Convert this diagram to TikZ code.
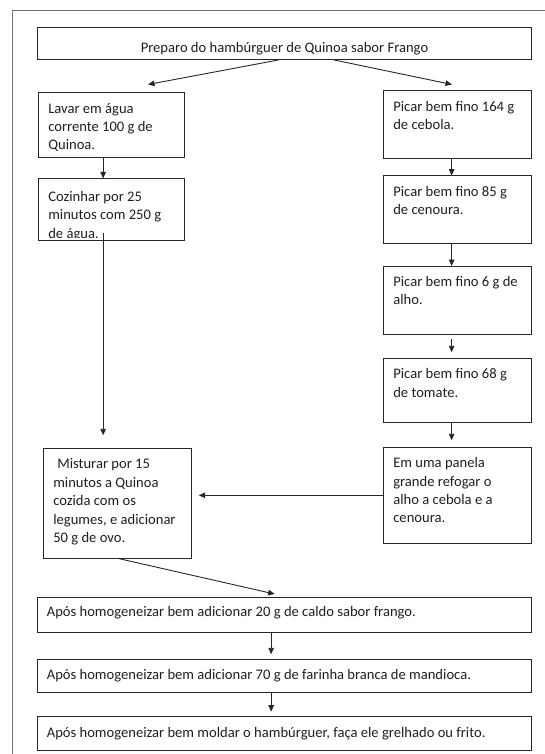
\documentclass[tikz,border=0pt]{standalone}
\usepackage{fontspec}
\setmainfont{Carlito}
\usetikzlibrary{arrows.meta}
\begin{document}
\begin{tikzpicture}[x=1pt,y=-1pt,
  boxst/.style={draw=black!85,line width=1pt,inner sep=0pt,outer sep=0pt,anchor=north west},
  txt/.style={inner sep=0pt,outer sep=0pt,anchor=north west,align=left,font=\fontsize{14.6}{18.4}\selectfont,text=black!88},
  arr/.style={draw=black!85,line width=0.9pt,-{Triangle[length=6.5pt,width=5.5pt]}},
  framest/.style={draw=black!55,line width=1.3pt}]
\useasboundingbox (0,0) rectangle (545,754);
% outer frame (only top and left visible)
\draw[framest] (12.3,770) -- (12.3,10.7) -- (560,10.7);

% boxes
\node[boxst,minimum width=493.5pt,minimum height=32pt] (title) at (37.5,28) {};
\node[boxst,minimum width=145.7pt,minimum height=64.6pt] (lav) at (38.3,92.7) {};
\node[boxst,minimum width=145.7pt,minimum height=61.5pt] (coz) at (38.3,178.5) {};
\node[boxst,minimum width=148.4pt,minimum height=110pt] (mis) at (43.3,448.3) {};
\node[boxst,minimum width=147.7pt,minimum height=68pt] (pa) at (383.3,91) {};
\node[boxst,minimum width=147.7pt,minimum height=67.8pt] (pb) at (383.3,175.6) {};
\node[boxst,minimum width=147.7pt,minimum height=68pt] (pc) at (383.3,266) {};
\node[boxst,minimum width=147.7pt,minimum height=64pt] (pd) at (383.3,358.3) {};
\node[boxst,minimum width=147.7pt,minimum height=96pt] (em) at (383.3,447.3) {};
\node[boxst,minimum width=493.7pt,minimum height=35pt] (aa) at (37.3,597) {};
\node[boxst,minimum width=493.7pt,minimum height=33.4pt] (ab) at (37.3,659.3) {};
\node[boxst,minimum width=493.7pt,minimum height=33.3pt] (ac) at (37.3,716.7) {};

% texts
\node[txt,anchor=base] (ttitle) at (284.5,53) {Preparo do hambúrguer de Quinoa sabor Frango};
\node[txt] (tlav) at (48.3,100.3) {\strut Lavar em água\\corrente 100 g de\\Quinoa.};
\begin{scope}
\clip (38.3,178.5) rectangle (184,237);
\node[txt] (tcoz) at (48.3,188.6) {\strut Cozinhar por 25\\minutos com 250 g\\de água.};
\end{scope}
\node[txt] (tmis) at (53.3,456.1) {\strut\hspace*{4pt}Misturar por 15\\minutos a Quinoa\\cozida com os\\legumes, e adicionar\\50 g de ovo.};
\node[txt] (tpa) at (393.3,98.6) {\strut Picar bem fino 164 g\\de cebola.};
\node[txt] (tpb) at (393.3,183.2) {\strut Picar bem fino 85 g\\de cenoura.};
\node[txt] (tpc) at (393.3,273.6) {\strut Picar bem fino 6 g de\\alho.};
\node[txt] (tpd) at (393.3,365.9) {\strut Picar bem fino 68 g\\de tomate.};
\node[txt] (tem) at (393.3,454.9) {\strut Em uma panela\\grande refogar o\\alho a cebola e a\\cenoura.};
\node[txt] (taa) at (46.8,604.1) {\strut Após homogeneizar bem adicionar 20 g de caldo sabor frango.};
\node[txt] (tab) at (46.8,666.6) {\strut Após homogeneizar bem adicionar 70 g de farinha branca de mandioca.};
\node[txt] (tac) at (46.8,724.2) {\strut Após homogeneizar bem moldar o hambúrguer, faça ele grelhado ou frito.};

% connectors
\coordinate (tl) at (148,84.5);
\coordinate (tr) at (452,84.5);
\draw[arr] ([xshift=-6pt]title.south) -- (tl);
\draw[arr] ([xshift=50pt]title.south) -- (tr);
\draw[arr] ([xshift=-8pt]lav.south) -- ([xshift=-8pt]coz.north);
\coordinate (cozx) at ([xshift=-8pt,yshift=7pt]coz.south);
\draw[arr,shorten >=13pt] (cozx) -- (cozx |- mis.north);
\draw[arr] ([xshift=-5.5pt]pa.south) -- ([xshift=-5.5pt]pb.north);
\draw[arr] ([xshift=-5.5pt]pb.south) -- ([xshift=-5.5pt]pc.north);
\draw[arr,shorten >=6pt] ([xshift=-5.5pt,yshift=-5pt]pc.south) -- ([xshift=-5.5pt]pd.north);
\draw[arr,shorten >=7pt] ([xshift=-5.5pt]pd.south) -- ([xshift=-5.5pt]em.north);
\draw[arr,shorten >=7pt] (em.west) -- (em.west -| mis.east);
\draw[arr] (mis.south) -- ([xshift=-9.5pt,yshift=3pt]aa.north);
\draw[arr,shorten >=5pt] ([xshift=-13pt]aa.south) -- ([xshift=-13pt]ab.north);
\draw[arr,shorten >=5pt] ([xshift=-13pt]ab.south) -- ([xshift=-13pt]ac.north);
\end{tikzpicture}
\end{document}
